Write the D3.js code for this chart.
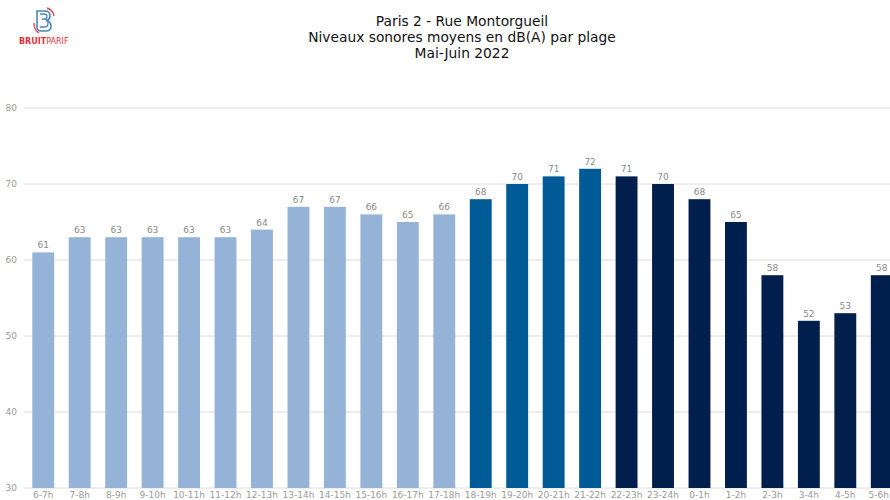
<!DOCTYPE html>
<html>
<head>
<meta charset="utf-8">
<script src="https://cdn.jsdelivr.net/npm/d3@7"></script>
<style>
  html, body { margin: 0; padding: 0; background: #fff; }
  svg { display: block; font-family: "DejaVu Sans", sans-serif; }
</style>
</head>
<body>
<svg id="chart" width="890" height="500"></svg>
<script>
// Hourly slots (6h to 6h) and mean sound levels in dB(A)
const categories = ["6-7h","7-8h","8-9h","9-10h","10-11h","11-12h","12-13h","13-14h","14-15h","15-16h","16-17h","17-18h",
  "18-19h","19-20h","20-21h","21-22h","22-23h","23-24h","0-1h","1-2h","2-3h","3-4h","4-5h","5-6h"];
const levels = [61,63,63,63,63,63,64,67,67,66,65,66,68,70,71,72,71,70,68,65,58,52,53,58];
// Period of each slot: day, evening, night
const periods = ["jour","jour","jour","jour","jour","jour","jour","jour","jour","jour","jour","jour",
  "soir","soir","soir","soir","nuit","nuit","nuit","nuit","nuit","nuit","nuit","nuit"];
const yTicks = [30,40,50,60,70,80];
const titleLines = ["Paris 2 - Rue Montorgueil", "Niveaux sonores moyens en dB(A) par plage", "Mai-Juin 2022"];

const W = 890;

const periodColor = d3.scaleOrdinal()
  .domain(["jour","soir","nuit"])
  .range(["#95b3d7","#005a96","#001f4c"]);

const svg = d3.select("#chart");

const x = d3.scaleBand()
  .domain(categories)
  .range([25, 900])
  .paddingInner(0.4)
  .paddingOuter(0.2);

const y = d3.scaleLinear().domain([30, 80]).range([488, 108]);

// Horizontal grid
svg.append("g")
  .selectAll("line")
  .data(yTicks)
  .join("line")
  .attr("x1", 24).attr("x2", W)
  .attr("y1", d => y(d)).attr("y2", d => y(d))
  .attr("stroke", "#dcdcdc").attr("stroke-width", 1);

// Y axis labels
const yAxis = d3.axisLeft(y).tickValues(yTicks).tickSize(0).tickPadding(0);
svg.append("g")
  .attr("transform", "translate(17,0)")
  .call(yAxis)
  .call(g => g.select(".domain").remove())
  .call(g => g.selectAll("text")
    .attr("fill", "#9a9a9a")
    .attr("font-size", 9)
    .attr("font-family", "DejaVu Sans, sans-serif"));

// Bars
svg.append("g")
  .selectAll("rect")
  .data(levels)
  .join("rect")
  .attr("x", (d, i) => x(categories[i]))
  .attr("width", x.bandwidth())
  .attr("y", d => y(d))
  .attr("height", d => y(30) - y(d))
  .attr("fill", (d, i) => periodColor(periods[i]));

// Value labels
svg.append("g")
  .selectAll("text")
  .data(levels)
  .join("text")
  .attr("x", (d, i) => x(categories[i]) + x.bandwidth() / 2)
  .attr("y", d => y(d) - 4)
  .attr("text-anchor", "middle")
  .attr("font-size", 9)
  .attr("fill", "#8a8a8a")
  .text(d => d);

// X axis labels, nudged inside the frame when they would overflow the right edge
const xAxis = d3.axisBottom(x).tickSize(0).tickPadding(0);
svg.append("g")
  .attr("transform", "translate(0,490)")
  .call(xAxis)
  .call(g => g.select(".domain").remove())
  .call(g => g.selectAll("text")
    .attr("fill", "#9a9a9a")
    .attr("font-size", 9)
    .attr("dy", "0.9em")
    .attr("font-family", "DejaVu Sans, sans-serif"))
  .call(g => g.selectAll(".tick").each(function(d) {
    const t = d3.select(this).select("text");
    const bb = this.getBBox();
    const cx = x(d) + x.bandwidth() / 2;
    const right = cx + bb.width / 2;
    if (right > W - 1) t.attr("dx", (W - 1 - right) + "px");
  }));

// Title
svg.append("g")
  .selectAll("text")
  .data(titleLines)
  .join("text")
  .attr("x", 462)
  .attr("y", (d, i) => 26 + i * 16)
  .attr("text-anchor", "middle")
  .attr("font-size", 13.8)
  .attr("fill", "#111")
  .text(d => d);

// Bruitparif logo
const logo = svg.append("g").attr("transform", "translate(43,21)");
logo.append("path")
  .attr("d", "M-6,-10 L-6,6 Q-6,10 -2,10 L3,10 Q8,10 8,5 Q8,1 4,0 Q7,-2 7,-5 Q7,-10 2,-10 Z")
  .attr("fill", "none").attr("stroke", "#4a86b8").attr("stroke-width", 1.6);
logo.append("path")
  .attr("d", "M-3,-7 L1,-7 Q4,-7 4,-4.5 Q4,-2 1,-2 L-1,-2 M-1,-2 L2,-2 Q5,-2 5,2 Q5,6 1.5,6 L-3,6")
  .attr("fill", "none").attr("stroke", "#4a86b8").attr("stroke-width", 1.3);
logo.append("path")
  .attr("d", "M4,-13 Q10,-11 11,-5")
  .attr("fill", "none").attr("stroke", "#e8474c").attr("stroke-width", 1.4);
logo.append("path")
  .attr("d", "M-9,2 Q-9,9 -4,12")
  .attr("fill", "none").attr("stroke", "#e8474c").attr("stroke-width", 1.4);
const brand = svg.append("text")
  .attr("x", 19).attr("y", 44)
  .attr("font-size", 8)
  .attr("fill", "#e2323a");
brand.append("tspan").attr("font-weight", "bold").text("BRUIT");
brand.append("tspan").text("PARIF");
</script>
</body>
</html>
